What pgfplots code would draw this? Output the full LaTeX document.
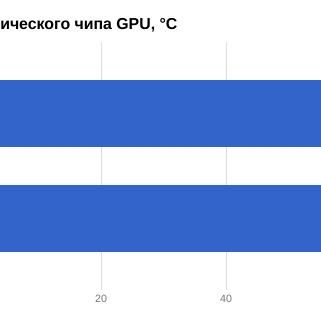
\documentclass[border=0pt]{standalone}
\usepackage{fontspec}
\setmainfont{Liberation Sans}
\usepackage{pgfplots}
\pgfplotsset{compat=1.18}
\definecolor{barblue}{HTML}{3264CA}
\definecolor{gridgray}{HTML}{DDDDDD}
\definecolor{ticktext}{HTML}{757575}
\begin{document}
\begin{tikzpicture}[x=0.75pt,y=0.75pt]
\path[use as bounding box] (0,0) rectangle (320,320);
\node[anchor=base west,inner sep=0pt,font=\fontsize{11.9}{14}\selectfont\bfseries] at (0,290) {ического чипа GPU, °C};
\begin{axis}[
    at={(0,22.5pt)}, anchor=south west,
    scale only axis, width=240pt, height=186pt,
    xbar, bar width=0.638,
    xmin=3.84, xmax=55.04,
    ymin=-0.681, ymax=1.681,
    xtick={20,40}, ytick=\empty,
    major tick length=0pt,
    axis line style={draw=none},
    clip=false,
    xmajorgrids, grid style={gridgray, line width=0.6pt},
    /pgf/number format/assume math mode=true,
    xticklabel style={font=\fontsize{8}{10}\selectfont, text=ticktext, inner sep=0pt, yshift=-3.5pt},
]
\addplot[fill=barblue, draw=none] coordinates {(56,1) (56,0)};
\end{axis}
\end{tikzpicture}
\end{document}
